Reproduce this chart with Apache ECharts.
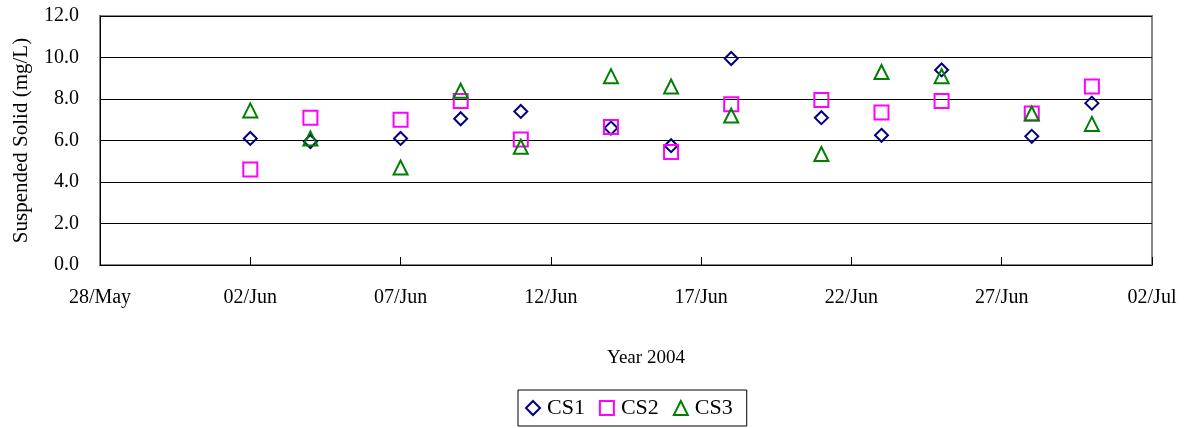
<!DOCTYPE html>
<html>
<head>
<meta charset="utf-8">
<script src="https://cdn.jsdelivr.net/npm/echarts@6/dist/echarts.min.js"></script>
<style>
html,body{margin:0;padding:0;background:#fff;}
#chart{width:1190px;height:428px;}
</style>
</head>
<body>
<div id="chart"></div>
<script>
const dates = ['2004-06-02','2004-06-04','2004-06-07','2004-06-09','2004-06-11','2004-06-14','2004-06-16','2004-06-18','2004-06-21','2004-06-23','2004-06-25','2004-06-28','2004-06-30'];
const cs1 = [6.1, 5.95, 6.1, 7.05, 7.4, 6.6, 5.75, 9.95, 7.1, 6.25, 9.4, 6.2, 7.8];
const cs2 = [4.6, 7.1, 7.0, 7.9, 6.05, 6.65, 5.45, 7.75, 7.95, 7.35, 7.9, 7.3, 8.6];
const cs3 = [7.45, 6.1, 4.7, 8.4, 5.7, 9.1, 8.6, 7.2, 5.35, 9.3, 9.1, 7.3, 6.8];
const xMin = '2004-05-28';
const xMax = '2004-07-02';
const yTicks = [0, 2, 4, 6, 8, 10, 12];
const months = ['Jan','Feb','Mar','Apr','May','Jun','Jul','Aug','Sep','Oct','Nov','Dec'];
const DAY = 86400000;
const ts = s => Date.parse(s + 'T00:00:00Z');
const pairs = arr => dates.map((d, i) => [ts(d), arr[i]]);
const fmt = v => {
  const d = new Date(v);
  return String(d.getUTCDate()).padStart(2, '0') + '/' + months[d.getUTCMonth()];
};
const font = '"Liberation Serif", "Times New Roman", serif';
const chart = echarts.init(document.getElementById('chart'), null, {renderer: 'canvas'});
const mk = (name, data, symbol, size, color) => ({
  name, type: 'scatter', data: pairs(data), symbol, symbolSize: size,
  itemStyle: {color: 'rgba(255,255,255,0)', borderColor: color, borderWidth: 2, opacity: 1},
  emphasis: {disabled: true}
});
chart.setOption({
  animation: false,
  textStyle: {fontFamily: font, color: '#000'},
  grid: {left: 100, right: 38, top: 16, bottom: 163, show: true, borderColor: '#888', borderWidth: 2},
  xAxis: {
    type: 'value', min: ts(xMin), max: ts(xMax), interval: 5 * DAY,
    name: 'Year 2004', nameLocation: 'middle', nameGap: 84,
    nameTextStyle: {fontFamily: font, fontSize: 19, color: '#000', padding: [0, 0, 0, 40]},
    axisLine: {lineStyle: {color: '#000', width: 1}},
    axisTick: {inside: true, length: 8, lineStyle: {color: '#000'}},
    axisLabel: {formatter: fmt, fontFamily: font, fontSize: 20, color: '#000', margin: 23},
    splitLine: {show: false}
  },
  yAxis: {
    type: 'value', min: yTicks[0], max: yTicks[yTicks.length - 1], interval: 2,
    name: 'Suspended Solid (mg/L)', nameLocation: 'middle', nameGap: 68, nameRotate: 90,
    nameTextStyle: {fontFamily: font, fontSize: 21, color: '#000'},
    axisLine: {show: true, lineStyle: {color: '#000', width: 1}},
    axisTick: {show: false},
    axisLabel: {formatter: v => v.toFixed(1), fontFamily: font, fontSize: 20, color: '#000', margin: 21},
    splitLine: {show: true, lineStyle: {color: '#000', width: 1}}
  },
  legend: {
    top: 390, left: 518,
    data: ['CS1', 'CS2', 'CS3'],
    borderColor: '#000', borderWidth: 1, padding: [7, 14, 7, 7],
    itemGap: 14, itemWidth: 14, itemHeight: 14,
    textStyle: {fontFamily: font, fontSize: 22, color: '#000', padding: [0, 0, 0, 2]}
  },
  series: [
    mk('CS1', cs1, 'diamond', 13, '#000080'),
    mk('CS2', cs2, 'rect', 14, '#FF00FF'),
    mk('CS3', cs3, 'triangle', 14, '#008000')
  ]
});
</script>
</body>
</html>
